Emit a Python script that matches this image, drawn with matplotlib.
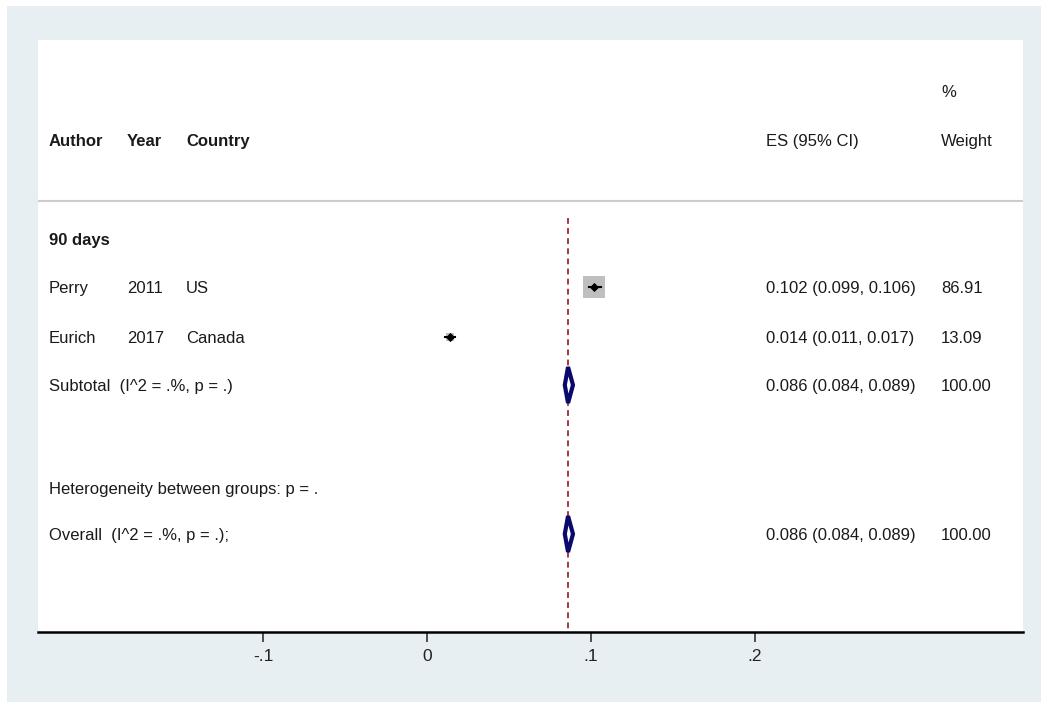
import numpy as np
import matplotlib
matplotlib.use('Agg')
import matplotlib.pyplot as plt
from matplotlib.patches import Rectangle, Polygon

plt.rcParams['font.family'] = ['Liberation Sans', 'DejaVu Sans']

# study data
authors = ['Perry', 'Eurich']
years = ['2011', '2017']
countries = ['US', 'Canada']
es = [0.102, 0.014]
lo = [0.099, 0.011]
hi = [0.106, 0.017]
weights = [86.91, 13.09]

# pooled estimates
sub_es, sub_lo, sub_hi = 0.086, 0.084, 0.089
overall_es, overall_lo, overall_hi = 0.086, 0.084, 0.089

xticks = [-0.1, 0, 0.1, 0.2]
xticklabels = ['-.1', '0', '.1', '.2']

bg = '#e8eff2'
W, H = 1041, 702
fig = plt.figure(figsize=(W / 100, H / 100), dpi=100, facecolor='white')
fig.patches.append(Rectangle((7 / W, 0), 1, 1 - 6 / H, transform=fig.transFigure,
                             facecolor=bg, edgecolor='none', zorder=-10))

ax = fig.add_axes([38 / W, 1 - 632 / H, (1023 - 38) / W, (632 - 40) / H])
ax.set_facecolor('white')
ax.set_xlim(-0.2372, 0.3634)
ax.set_ylim(632, 40)  # row positions in pixel units, top down
for s in ['top', 'left', 'right']:
    ax.spines[s].set_visible(False)
ax.spines['bottom'].set_linewidth(1.8)
ax.set_yticks([])
ax.set_xticks(xticks)
ax.set_xticklabels(xticklabels, fontsize=12.5, color='#222222')
ax.tick_params(axis='x', length=7, width=1.2, color='#333333', pad=5)

fs = 12
txtc = '#1a1a1a'
col_author, col_year, col_country = -0.2305, -0.183, -0.147
col_es, col_w = 0.2065, 0.3135


def put(x, y, s, bold=False):
    ax.text(x, y, s, fontsize=fs, va='center_baseline', color=txtc,
            fontweight='bold' if bold else 'normal')


# header
put(col_w, 91, '%')
put(col_author, 140, 'Author', True)
put(col_year, 140, 'Year', True)
put(col_country, 140, 'Country', True)
put(col_es, 140, 'ES (95% CI)')
put(col_w, 140, 'Weight')
ax.axhline(201, color='#cccccc', lw=1.5)

# reference line at overall estimate
ax.plot([overall_es, overall_es], [218, 632], color='#a03a48', lw=1.4, ls=(0, (3, 2.2)), zorder=1)

put(col_author, 239, '90 days', True)

rows = [287, 337]
wmax = max(weights)
for i in range(len(authors)):
    y = rows[i]
    put(col_author, y, authors[i])
    put(col_year, y, years[i])
    put(col_country, y, countries[i])
    put(col_es, y, '%.3f (%.3f, %.3f)' % (es[i], lo[i], hi[i]))
    put(col_w, y, '%.2f' % weights[i])
    ax.scatter(es[i], y, marker='s', s=230 * weights[i] / wmax, color='#bfbfbf', lw=0, zorder=2)
    ax.plot([lo[i], hi[i]], [y, y], color='black', lw=1.5, zorder=3)
    ax.scatter(es[i], y, marker='D', s=22, color='black', lw=0, zorder=4)


def diamond(e, l, h, y):
    d = Polygon([[l, y], [e, y - 18], [h, y], [e, y + 18]], closed=True,
                facecolor='white', edgecolor='#0a0a6e', lw=3.0, zorder=5)
    ax.add_patch(d)


y_sub = 385
put(col_author, y_sub, 'Subtotal  (I^2 = .%, p = .)')
put(col_es, y_sub, '%.3f (%.3f, %.3f)' % (sub_es, sub_lo, sub_hi))
put(col_w, y_sub, '100.00')
diamond(sub_es, sub_lo, sub_hi, y_sub)

put(col_author, 488, 'Heterogeneity between groups: p = .')

y_ov = 534
put(col_author, y_ov, 'Overall  (I^2 = .%, p = .);')
put(col_es, y_ov, '%.3f (%.3f, %.3f)' % (overall_es, overall_lo, overall_hi))
put(col_w, y_ov, '100.00')
diamond(overall_es, overall_lo, overall_hi, y_ov)

fig.savefig('out.png', dpi=100, facecolor=fig.get_facecolor())
